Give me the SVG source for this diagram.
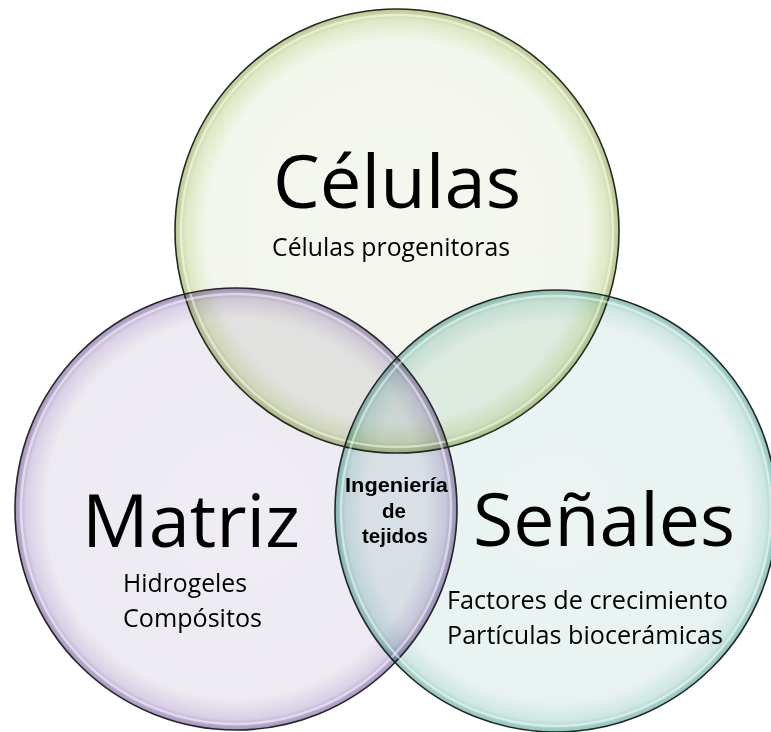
<svg xmlns="http://www.w3.org/2000/svg" width="771" height="732" viewBox="0 0 771 732">
  <style>
    .disc { mix-blend-mode: multiply; }
    .rim { fill: none; stroke: #262626; stroke-width: 1.6; }
    .shine { fill: none; stroke: #ffffff; stroke-width: 2.5; stroke-opacity: 0.5; }
    .big { font-family: "Open Sans", "Noto Sans", sans-serif; font-size: 73px; fill: #000; }
    .small { font-family: "Open Sans", "Noto Sans", sans-serif; font-size: 25px; fill: #000; }
    .mid { font-family: "Liberation Sans", Arial, sans-serif; font-size: 20.5px; font-weight: bold; fill: #000; text-anchor: middle; }
  </style>
  <defs>
    <radialGradient id="gTop" cx="0.5" cy="0.5" r="0.5">
      <stop offset="0" stop-color="#f5f7ef"/>
      <stop offset="0.86" stop-color="#f3f6ec"/>
      <stop offset="0.95" stop-color="#e0e9c6"/>
      <stop offset="1" stop-color="#b9c98e"/>
    </radialGradient>
    <radialGradient id="gLeft" cx="0.5" cy="0.5" r="0.5">
      <stop offset="0" stop-color="#efedf3"/>
      <stop offset="0.86" stop-color="#edeaf2"/>
      <stop offset="0.95" stop-color="#d9d0e6"/>
      <stop offset="1" stop-color="#a593c0"/>
    </radialGradient>
    <radialGradient id="gRight" cx="0.5" cy="0.5" r="0.5">
      <stop offset="0" stop-color="#ebf4f3"/>
      <stop offset="0.86" stop-color="#e8f3f1"/>
      <stop offset="0.95" stop-color="#cfe7e3"/>
      <stop offset="1" stop-color="#8cc4bc"/>
    </radialGradient>
  </defs>
  <rect width="771" height="732" fill="#ffffff"/>

  <g id="circles-fill">
    <circle class="disc" cx="397" cy="231" r="222" fill="url(#gTop)"/>
    <circle class="disc" cx="236" cy="509" r="221" fill="url(#gLeft)"/>
    <circle class="disc" cx="556" cy="511" r="221" fill="url(#gRight)"/>
  </g>

  <g id="node-celulas">
    <circle class="shine" cx="397" cy="231" r="216"/>
    <circle class="rim" cx="397" cy="231" r="222"/>
    <text class="big" x="273" y="208" textLength="248" lengthAdjust="spacingAndGlyphs">Células</text>
    <text class="small" x="272" y="256" textLength="238" lengthAdjust="spacingAndGlyphs">Células progenitoras</text>
  </g>

  <g id="node-matriz">
    <circle class="shine" cx="236" cy="509" r="215"/>
    <circle class="rim" cx="236" cy="509" r="221"/>
    <text class="big" x="82" y="547" textLength="218" lengthAdjust="spacingAndGlyphs">Matriz</text>
    <text class="small" x="123" y="592" textLength="124" lengthAdjust="spacingAndGlyphs">Hidrogeles</text>
    <text class="small" x="123" y="627" textLength="139" lengthAdjust="spacingAndGlyphs">Compósitos</text>
  </g>

  <g id="node-senales">
    <circle class="shine" cx="556" cy="511" r="215"/>
    <circle class="rim" cx="556" cy="511" r="221"/>
    <text class="big" x="473" y="546" textLength="262" lengthAdjust="spacingAndGlyphs">Señales</text>
    <text class="small" x="447" y="609" textLength="281" lengthAdjust="spacingAndGlyphs">Factores de crecimiento</text>
    <text class="small" x="447" y="644" textLength="276" lengthAdjust="spacingAndGlyphs">Partículas biocerámicas</text>
  </g>

  <g id="node-ingenieria">
    <text class="mid" x="396.5" y="492" textLength="103" lengthAdjust="spacingAndGlyphs">Ingeniería</text>
    <text class="mid" x="394" y="518">de</text>
    <text class="mid" x="395" y="543">tejidos</text>
  </g>
</svg>
